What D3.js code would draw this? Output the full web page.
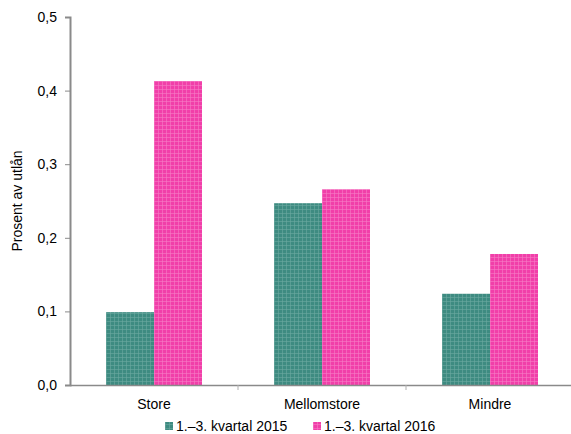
<!DOCTYPE html>
<html lang="en">
<head>
<meta charset="UTF-8">
<title>Utlånstap</title>
<script src="https://cdn.jsdelivr.net/npm/d3@7"></script>
<style>
  body { margin: 0; background: #fff; font-family: "Liberation Sans", Arial, sans-serif; }
</style>
</head>
<body>
<div id="chart"></div>
<script>
// data
const categories = ["Store", "Mellomstore", "Mindre"];
const seriesNames = ["1.–3. kvartal 2015", "1.–3. kvartal 2016"];
const values2015 = [0.099, 0.247, 0.124];
const values2016 = [0.413, 0.266, 0.178];
const yTicks = [0, 0.1, 0.2, 0.3, 0.4, 0.5];

const width = 571, height = 434;
const margin = {top: 17, right: 0, bottom: 49, left: 70};
const innerW = 504, innerH = height - margin.top - margin.bottom;
const fontSize = 14;

const svg = d3.select("#chart").append("svg")
    .attr("width", width).attr("height", height);

// checkered fills like the original
const defs = svg.append("defs");
const fills = [
    {id: "pat0", base: "#3e8b81", line: "#6aa9a0"},
    {id: "pat1", base: "#f13fa9", line: "#f77cc4"}
];
fills.forEach(f => {
    const p = defs.append("pattern").attr("id", f.id)
        .attr("patternUnits", "userSpaceOnUse").attr("width", 4).attr("height", 4);
    p.append("rect").attr("width", 4).attr("height", 4).attr("fill", f.base);
    p.append("rect").attr("x", 0).attr("y", 0).attr("width", 4).attr("height", 1).attr("fill", f.line).attr("opacity", 0.6);
    p.append("rect").attr("x", 0).attr("y", 0).attr("width", 1).attr("height", 4).attr("fill", f.line).attr("opacity", 0.6);
});

const g = svg.append("g").attr("transform", `translate(${margin.left},${margin.top})`);

const x0 = d3.scaleBand().domain(categories).range([0, innerW]).paddingInner(0).paddingOuter(0);
const x1 = d3.scaleBand().domain(seriesNames).range([36, x0.bandwidth() - 36]);
const y = d3.scaleLinear().domain([0, 0.5]).range([innerH, 0]);

const rows = categories.map((c, i) => ({cat: c, vals: [values2015[i], values2016[i]]}));

g.selectAll("g.cat").data(rows).join("g")
    .attr("class", "cat")
    .attr("transform", d => `translate(${x0(d.cat)},0)`)
    .selectAll("rect").data(d => d.vals.map((v, j) => ({s: seriesNames[j], v, j})))
    .join("rect")
    .attr("x", d => x1(d.s))
    .attr("width", x1.bandwidth())
    .attr("y", d => y(d.v))
    .attr("height", d => innerH - y(d.v))
    .attr("fill", d => `url(#pat${d.j})`);

// y axis
const yAxis = g.append("g").call(d3.axisLeft(y).tickValues(yTicks)
    .tickFormat(d => d3.format(".1f")(d).replace(".", ",")).tickSize(5).tickPadding(8));
yAxis.select(".domain").attr("stroke", "#8a8a8a").attr("stroke-width", 2);
yAxis.selectAll(".tick line").attr("stroke", "#8a8a8a");
yAxis.selectAll("text").attr("font-size", fontSize).attr("fill", "#000")
    .attr("font-family", "Liberation Sans, Arial, sans-serif");

// x axis
const xAxis = g.append("g").attr("transform", `translate(0,${innerH})`)
    .call(d3.axisBottom(x0).tickSize(0).tickPadding(14));
xAxis.select(".domain").attr("stroke", "#8a8a8a").attr("stroke-width", 1.5);
xAxis.selectAll("text").attr("font-size", fontSize).attr("fill", "#000")
    .attr("font-family", "Liberation Sans, Arial, sans-serif");
// category boundary ticks
g.append("g").selectAll("line").data(categories.slice(1)).join("line")
    .attr("x1", d => x0(d)).attr("x2", d => x0(d))
    .attr("y1", innerH).attr("y2", innerH + 5)
    .attr("stroke", "#b0b0b0");

// y label
svg.append("text")
    .attr("transform", "rotate(-90)")
    .attr("x", -(margin.top + innerH / 2)).attr("y", 22)
    .attr("text-anchor", "middle")
    .attr("font-size", fontSize)
    .text("Prosent av utlån");

// legend
const legendX = [165, 313];
const legend = svg.append("g").selectAll("g").data(seriesNames).join("g")
    .attr("transform", (d, i) => `translate(${legendX[i]},420)`);
legend.append("rect").attr("width", 8).attr("height", 8).attr("y", 2)
    .attr("fill", (d, i) => `url(#pat${i})`);
legend.append("text").attr("x", 11).attr("y", 11).attr("font-size", fontSize).text(d => d);
</script>
</body>
</html>
